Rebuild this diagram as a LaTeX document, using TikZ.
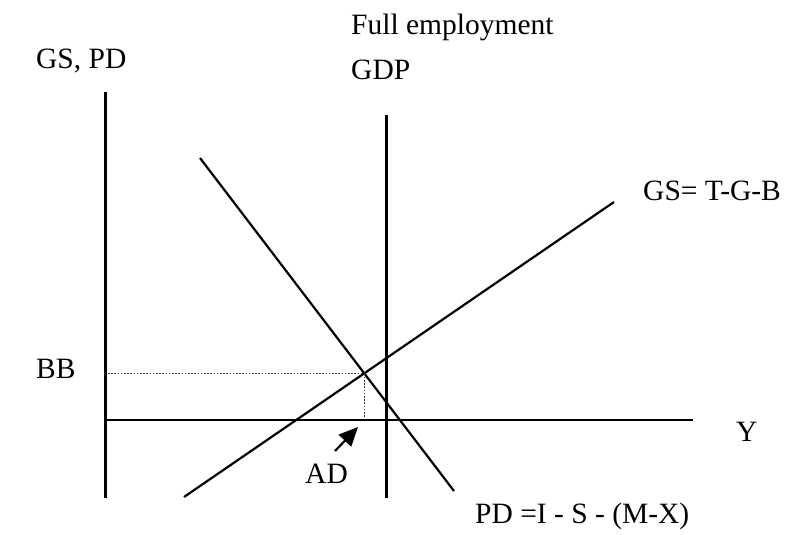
\documentclass[tikz,border=0pt]{standalone}
\usepackage{fontspec}
\setmainfont{Liberation Serif}
\usetikzlibrary{arrows.meta}
\begin{document}
\begin{tikzpicture}[x=1pt,y=-1pt,
  axis/.style={line width=2.1pt},
  curve/.style={line width=2.2pt},
  guide/.style={line width=1.5pt, dash pattern=on 1.6pt off 1.6pt, black!80},
  lbl/.style={font=\fontsize{29.5}{34}\selectfont, inner sep=0pt, anchor=base west}]
\useasboundingbox (0,0) rectangle (785,535);
% coordinates
\coordinate (ytop) at (105.5,92);
\coordinate (ybot) at (105.5,498);
\coordinate (xl) at (105.5,420);
\coordinate (xr) at (693,420);
\coordinate (fetop) at (386.5,115);
\coordinate (febot) at (386.5,498);
\coordinate (pdS) at (200,158);
\coordinate (pdE) at (454,491);
\coordinate (gsS) at (184,497);
\coordinate (gsE) at (614,202);
\coordinate (eq) at (364.5,373.5);
\coordinate (bbL) at (108,373.5);
\coordinate (adB) at (364.5,418);
\coordinate (arT) at (335,451);
\coordinate (arH) at (358,427);
% axes
\draw[axis] (ytop) -- (ybot);
\draw[axis] (xl) -- (xr);
\draw[axis] (fetop) -- (febot);
% curves
\draw[curve] (pdS) -- (pdE);
\draw[curve] (gsS) -- (gsE);
% guides
\draw[guide] (bbL) -- (eq);
\draw[guide] (eq) -- (adB);
% arrow
\draw[line width=2.2pt, -{Triangle[length=19pt,width=17pt]}] (arT) -- (arH);
% labels
\node[lbl] (gspd) at (36,69) {GS, PD};
\node[lbl] (fe) at (351,35) {Full employment};
\node[lbl] (gdp) at (351,80) {GDP};
\node[lbl] (gsl) at (643,200) {GS= T-G-B};
\node[lbl] (bb) at (36,378) {BB};
\node[lbl] (yl) at (736,441) {Y};
\node[lbl] (ad) at (305,483) {AD};
\node[lbl] (pdl) at (475,523) {PD =I - S - (M-X)};
\end{tikzpicture}
\end{document}
